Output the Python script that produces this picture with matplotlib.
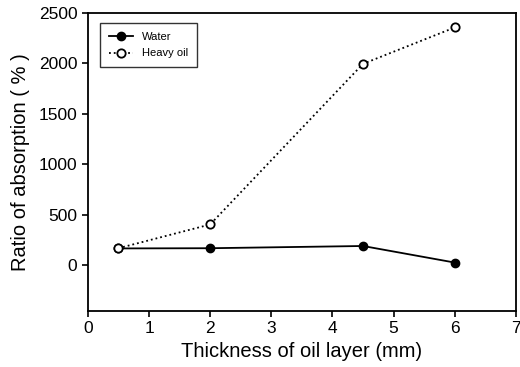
import matplotlib.pyplot as plt

plt.rcParams['font.family'] = ['Liberation Sans', 'DejaVu Sans']

# Data
thickness = [0.5, 2, 4.5, 6]
water = [168, 170, 192, 28]
heavy_oil = [170, 405, 1995, 2355]

fig = plt.figure(figsize=(5.2, 3.67), dpi=100)
ax = fig.add_axes([0.169, 0.153, 0.823, 0.812])

ax.plot(thickness, water, '-', color='black', marker='o', markersize=6,
        markerfacecolor='black', linewidth=1.3, label='Water')
ax.plot(thickness, heavy_oil, ':', color='black', marker='o', markersize=6,
        markerfacecolor='white', markeredgewidth=1.3, linewidth=1.3, label='Heavy oil')

ax.set_xlim(0, 7)
ax.set_ylim(-450, 2500)
ax.set_xticks(range(0, 8))
ax.set_yticks([0, 500, 1000, 1500, 2000, 2500])
ax.tick_params(labelsize=12.5, direction='out', length=4, width=1.2, top=False, right=False)
for s in ax.spines.values():
    s.set_linewidth(1.3)

ax.set_xlabel("Thickness of oil layer (mm)", fontsize=14.5)
ax.set_ylabel("Ratio of absorption ( % )", fontsize=14.5, labelpad=6)

leg = ax.legend(loc='upper left', fontsize=8, frameon=True, fancybox=False,
                edgecolor='black', borderpad=0.8, handlelength=2.2, labelspacing=0.6,
                bbox_to_anchor=(0.015, 0.985))
leg.get_frame().set_linewidth(1.0)

plt.savefig('out.png', dpi=100)
